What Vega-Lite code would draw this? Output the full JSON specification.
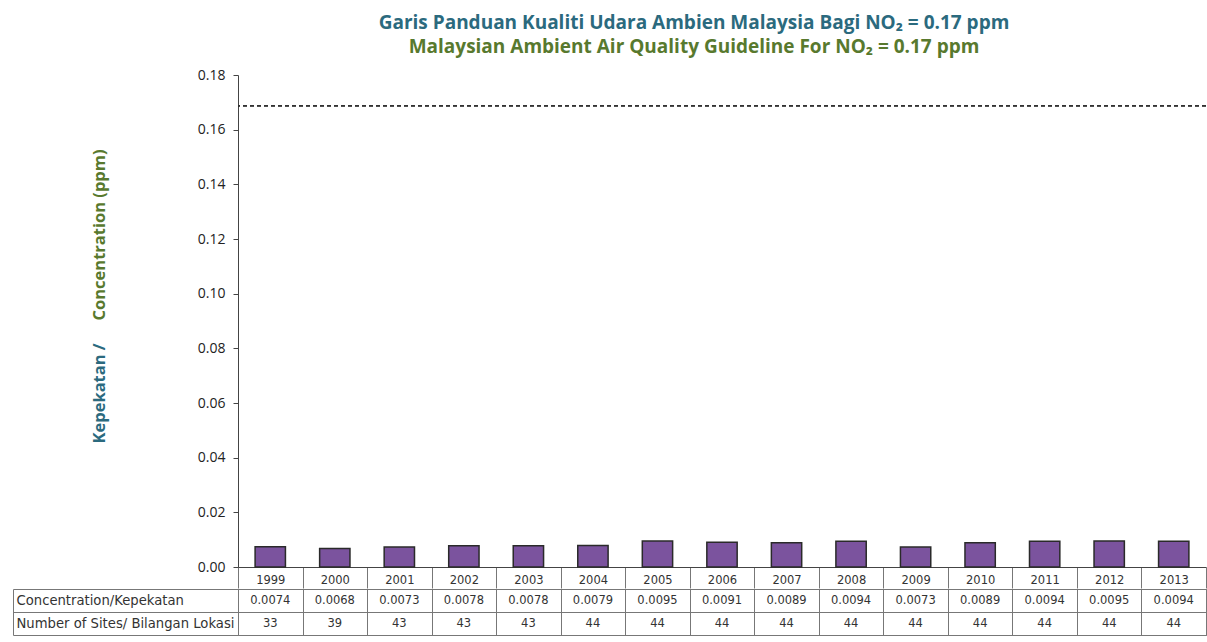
{
  "$schema": "https://vega.github.io/schema/vega-lite/v6.json",
  "padding": {"left": 12, "top": 14, "right": 2, "bottom": 4},
  "background": "white",
  "spacing": -8,
  "config": {"font": "Open Sans", "view": {"stroke": null}},
  "data": {"values": [
    {"year": "1999", "conc": 0.0074, "sites": 33},
    {"year": "2000", "conc": 0.0068, "sites": 39},
    {"year": "2001", "conc": 0.0073, "sites": 43},
    {"year": "2002", "conc": 0.0078, "sites": 43},
    {"year": "2003", "conc": 0.0078, "sites": 43},
    {"year": "2004", "conc": 0.0079, "sites": 44},
    {"year": "2005", "conc": 0.0095, "sites": 44},
    {"year": "2006", "conc": 0.0091, "sites": 44},
    {"year": "2007", "conc": 0.0089, "sites": 44},
    {"year": "2008", "conc": 0.0094, "sites": 44},
    {"year": "2009", "conc": 0.0073, "sites": 44},
    {"year": "2010", "conc": 0.0089, "sites": 44},
    {"year": "2011", "conc": 0.0094, "sites": 44},
    {"year": "2012", "conc": 0.0095, "sites": 44},
    {"year": "2013", "conc": 0.0094, "sites": 44}
  ]},
  "vconcat": [
    {
      "width": 968,
      "height": 492,
      "title": {
        "text": "Garis Panduan Kualiti Udara Ambien Malaysia Bagi NO₂ = 0.17 ppm",
        "subtitle": "Malaysian Ambient Air Quality Guideline For NO₂ = 0.17 ppm",
        "color": "#2B6A7E",
        "subtitleColor": "#58792E",
        "font": "Open Sans",
        "subtitleFont": "Open Sans",
        "fontSize": 19,
        "subtitleFontSize": 19,
        "fontWeight": "bold",
        "subtitleFontWeight": "bold",
        "anchor": "middle",
        "dx": -28,
        "offset": 11,
        "subtitlePadding": 5
      },
      "resolve": {"axis": {"y": "independent"}},
      "layer": [
        {
          "mark": {"type": "bar", "fill": "#7B539E", "stroke": "#2a2a2a", "strokeWidth": 1.5, "width": {"band": 0.47}},
          "encoding": {
            "x": {
              "field": "year", "type": "ordinal",
              "scale": {"paddingInner": 0, "paddingOuter": 0},
              "axis": {
                "title": null, "labelAngle": 0, "tickBand": "extent", "tickSize": 21,
                "tickColor": "#777", "domainColor": "#444", "labelPadding": -14,
                "labelFont": "DejaVu Sans", "labelFontSize": 11.5, "labelColor": "#333"
              }
            },
            "y": {
              "field": "conc", "type": "quantitative",
              "scale": {"domain": [0, 0.18], "nice": false},
              "axis": {
                "values": [0, 0.02, 0.04, 0.06, 0.08, 0.1, 0.12, 0.14, 0.16, 0.18],
                "format": ".2f", "grid": false, "tickSize": 5,
                "domainColor": "#444", "tickColor": "#444",
                "labelFont": "Open Sans", "labelFontSize": 14, "labelColor": "#222", "labelPadding": 8,
                "title": "Kepekatan /", "titleColor": "#2B6A7E", "titleFont": "Open Sans",
                "titleFontSize": 16.5, "titleFontWeight": "bold", "titleAngle": -90,
                "titleAlign": "left", "titleBaseline": "middle", "titleX": -139, "titleY": 368
              }
            }
          }
        },
        {
          "mark": {"type": "rule", "strokeDash": [4, 3], "color": "#333", "strokeWidth": 1},
          "encoding": {
            "y": {
              "datum": 0.1688, "type": "quantitative",
              "axis": {
                "orient": "left", "labels": false, "ticks": false, "domain": false, "grid": false,
                "title": "Concentration (ppm)", "titleColor": "#58792E", "titleFont": "Open Sans",
                "titleFontSize": 16.5, "titleFontWeight": "bold", "titleAngle": -90,
                "titleAlign": "left", "titleBaseline": "middle", "titleX": -139, "titleY": 245
              }
            }
          }
        }
      ]
    },
    {
      "width": 968,
      "height": 46,
      "view": {"stroke": "#777"},
      "layer": [
        {
          "mark": {"type": "text", "font": "DejaVu Sans", "fontSize": 11.5, "color": "#333"},
          "encoding": {
            "x": {
              "field": "year", "type": "ordinal",
              "scale": {"type": "band", "paddingInner": 0, "paddingOuter": 0},
              "axis": {"title": null, "labels": false, "ticks": false, "domain": false, "grid": true, "tickBand": "extent", "gridColor": "#777", "gridOpacity": 1}
            },
            "y": {
              "datum": "Concentration/Kepekatan", "type": "nominal",
              "scale": {"type": "band", "domain": ["Concentration/Kepekatan", "Number of Sites/ Bilangan Lokasi"], "paddingInner": 0, "paddingOuter": 0},
              "axis": {
                "orient": "left", "offset": 225, "title": null,
                "domain": true, "domainColor": "#777",
                "ticks": true, "tickBand": "extent", "tickSize": -225, "tickColor": "#777",
                "grid": true, "gridColor": "#777", "gridOpacity": 1,
                "labelAlign": "left", "labelPadding": 222, "labelLimit": 0,
                "labelFont": "DejaVu Sans", "labelFontSize": 13.2, "labelColor": "#333"
              }
            },
            "text": {"field": "conc", "type": "quantitative", "format": ".4f"}
          }
        },
        {
          "mark": {"type": "text", "font": "DejaVu Sans", "fontSize": 11.5, "color": "#333"},
          "encoding": {
            "x": {"field": "year", "type": "ordinal"},
            "y": {"datum": "Number of Sites/ Bilangan Lokasi", "type": "nominal"},
            "text": {"field": "sites", "type": "quantitative"}
          }
        }
      ]
    }
  ]
}
